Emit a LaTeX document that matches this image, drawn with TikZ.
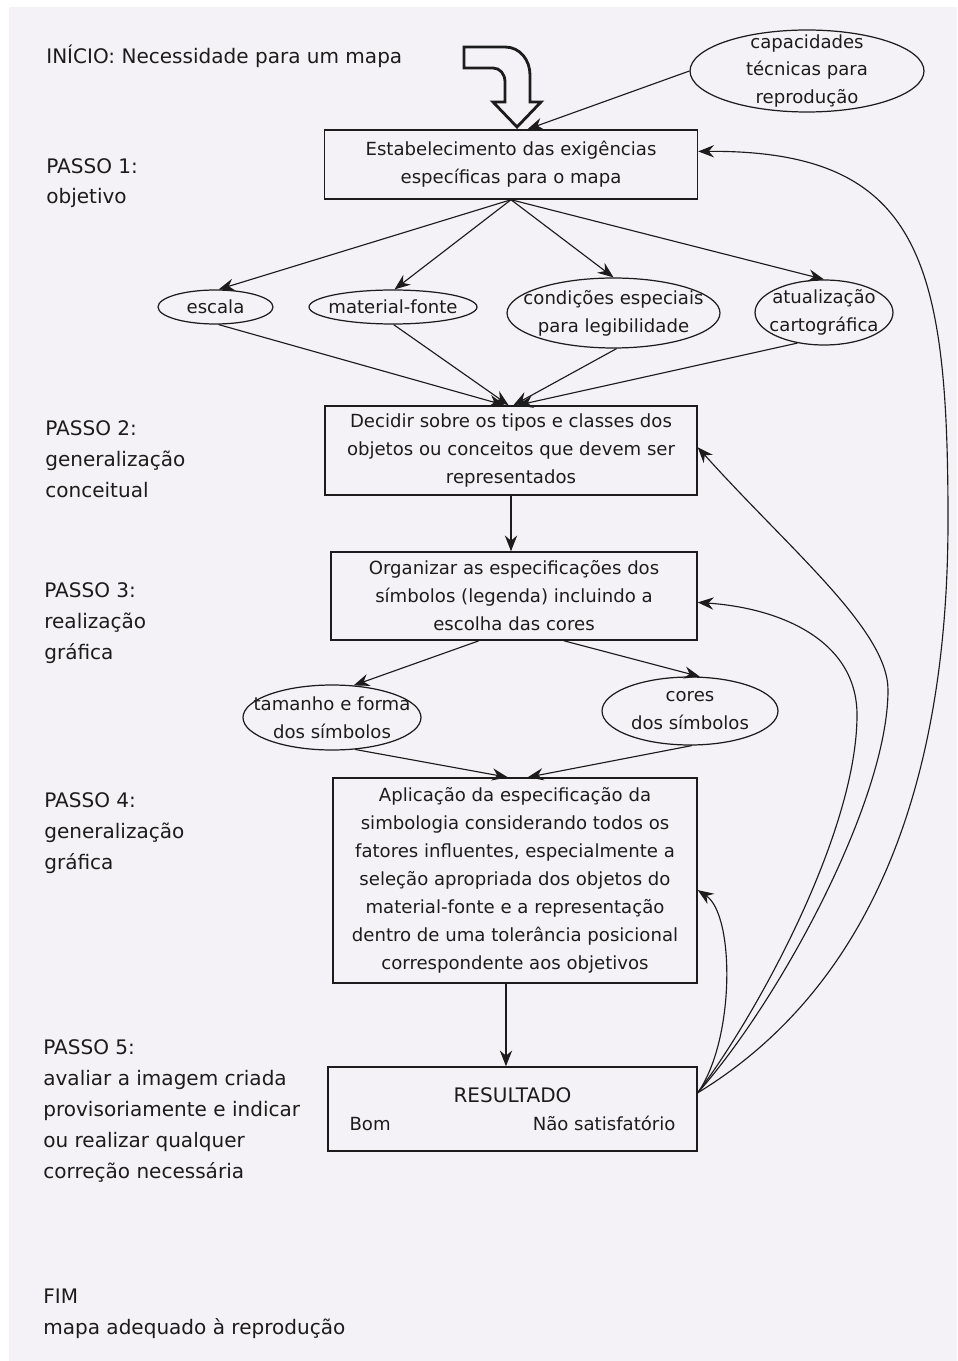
\documentclass[tikz,border=0pt]{standalone}
\usepackage{fontspec}
\setmainfont{DejaVu Sans}
\usetikzlibrary{shapes,arrows.meta}

\definecolor{paper}{RGB}{244,242,246}
\definecolor{ink}{RGB}{28,28,28}

\tikzset{
  stepbox/.style={draw=ink,line width=0.85pt,align=center,inner sep=0pt,text=ink,font=\fontsize{10.3}{15.9}\selectfont},
  factor/.style={ellipse,draw=ink,line width=0.7pt,align=center,inner sep=-2cm,text=ink,font=\fontsize{10.3}{15.9}\selectfont},
  steplabel/.style={anchor=base west,align=left,inner sep=0pt,text=ink,font=\fontsize{11.4}{17.6}\selectfont},
  flow/.style={draw=ink,line width=0.65pt,-{Stealth[length=9pt,width=7pt,inset=3pt]}},
}

\begin{document}
\begin{tikzpicture}[x=0.02cm,y=-0.02cm]
\useasboundingbox (0,0) rectangle (957,1361);
\fill[white] (0,0) rectangle (957,1361);
\fill[paper] (9,7) rectangle (957,1361);

% Step labels (base = baseline of last line)
\draw(46,64) node[steplabel](start){INÍCIO: Necessidade para um mapa};
\draw(46,204) node[steplabel](step1){PASSO 1:\\objetivo};
\draw(45,497) node[steplabel](step2){PASSO 2:\\generalização\\conceitual};
\draw(44,659) node[steplabel](step3){PASSO 3:\\realização\\gráfica};
\draw(44,869) node[steplabel](step4){PASSO 4:\\generalização\\gráfica};
\draw(43,1178) node[steplabel](step5){PASSO 5:\\avaliar a imagem criada\\provisoriamente e indicar\\ou realizar qualquer\\correção necessária};
\draw(43,1334) node[steplabel](finish){FIM\\mapa adequado à reprodução};

% Boxes
\node[stepbox,minimum width=7.46cm,minimum height=1.38cm](req) at (511,164.5){Estabelecimento das exigências\\específicas para o mapa};
\node[stepbox,minimum width=7.44cm,minimum height=1.78cm](concept) at (511,450.5){Decidir sobre os tipos e classes dos\\objetos ou conceitos que devem ser\\representados};
\node[stepbox,minimum width=7.32cm,minimum height=1.76cm](legend) at (514,596){Organizar as especificações dos\\símbolos (legenda) incluindo a\\escolha das cores};
\node[stepbox,minimum width=7.28cm,minimum height=4.1cm](apply) at (515,880.5){Aplicação da especificação da\\simbologia considerando todos os\\fatores influentes, especialmente a\\seleção apropriada dos objetos do\\material-fonte e a representação\\dentro de uma tolerância posicional\\correspondente aos objetivos};
\node[stepbox,minimum width=7.38cm,minimum height=1.68cm](res) at (512.5,1109){{\fontsize{11.4}{15.9}\selectfont RESULTADO}\\\makebox[6.52cm]{Bom\hfill Não satisfatório}};

% Ellipses
\node[factor,minimum width=4.68cm,minimum height=1.64cm](cap) at (807,71){capacidades\\técnicas para\\reprodução};
\node[factor,minimum width=2.3cm,minimum height=0.68cm](escala) at (215.5,307){escala};
\node[factor,minimum width=3.36cm,minimum height=0.68cm](mat) at (393,307){material-fonte};
\node[factor,minimum width=4.26cm,minimum height=1.4cm](cond) at (613.5,313){condições especiais\\para legibilidade};
\node[factor,minimum width=2.76cm,minimum height=1.3cm](atual) at (824,312.5){atualização\\cartográfica};
\node[factor,minimum width=3.56cm,minimum height=1.3cm](size) at (332,717.5){tamanho e forma\\dos símbolos};
\node[factor,minimum width=3.52cm,minimum height=1.36cm](colour) at (690,711){cores\\dos símbolos};

% Hollow start arrow
\draw[draw=ink,line width=1.6pt,fill=paper,line join=miter] (464,47) -- (505,47) .. controls (520,47) and (530,60) .. (530,75) -- (530,102) -- (541,102) -- (517,127) -- (493,102) -- (505,102) -- (505,82) .. controls (505,74) and (500,68) .. (493,68) -- (464,68) -- cycle;

% Arrows
\draw[flow] (cap.west) -- (req.65);
\draw[flow] (req.south) -- (escala.80);
\draw[flow] (req.south) -- (mat.85);
\draw[flow] (req.south) -- (cond.north);
\draw[flow] (req.south) -- (atual.north);
\draw[flow] (escala.-80) -- (concept.98);
\draw[flow] (mat.-88) -- (concept.93);
\draw[flow] (cond.-85) -- (concept.87);
\draw[flow] (atual.-131) -- (concept.82);
\draw[flow] (concept.south) -- (concept.south |- legend.north);
\draw[flow] (legend.-128) -- (size.56);
\draw[flow] (legend.-42) -- (colour.74);
\draw[flow] (size.-54) -- (apply.94);
\draw[flow] (colour.-87) -- (apply.83);
\draw[flow] (apply.-95) -- (apply.-95 |- res.north);

% Feedback
\draw[flow] (res.5) .. controls (735,1040) and (735,915) .. (apply.-3);
\draw[flow] (res.5) .. controls (760,1010) and (857,830) .. (857,715) .. controls (857,640) and (780,608) .. (legend.-2);
\draw[flow] (res.5) .. controls (780,1000) and (888,800) .. (888,690) .. controls (888,630) and (790,550) .. (concept.1);
\draw[flow] (res.5) .. controls (850,1000) and (948,820) .. (948,520) .. controls (948,260) and (920,150) .. (req.4);

\end{tikzpicture}
\end{document}
